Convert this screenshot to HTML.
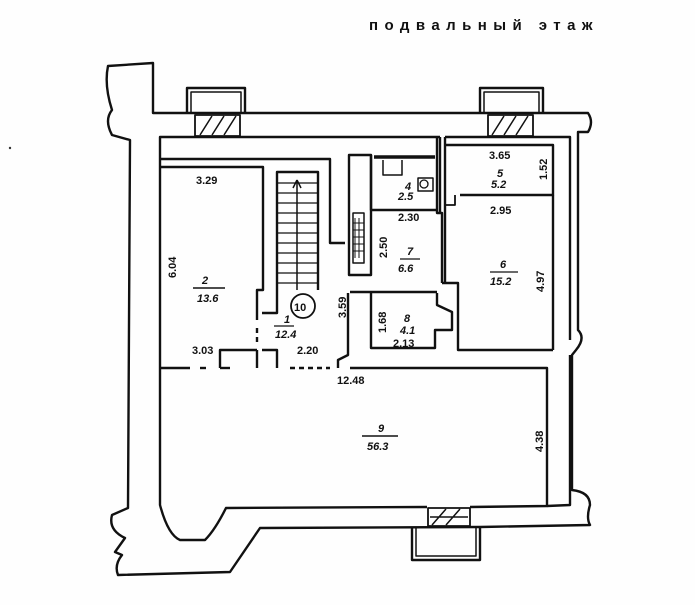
<!DOCTYPE html>
<html><head><meta charset="utf-8"><style>
html,body{margin:0;padding:0;background:#fff;}
svg{display:block}
text{font-family:"Liberation Sans",sans-serif;fill:#111;}
.l{font-size:11px;font-weight:bold}
.i{font-size:11px;font-style:italic;font-weight:bold}
</style></head><body>
<svg width="695" height="605" viewBox="0 0 695 605" xmlns="http://www.w3.org/2000/svg">
<rect width="695" height="605" fill="#fefefe"/>
<text x="369" y="30" style="font-size:15px;font-weight:bold;letter-spacing:2.5px" textLength="226">подвальный этаж</text>
<g fill="none" stroke="#111" stroke-width="2.4" stroke-linejoin="round">
<path d="M108,66 L153,63 L153,113 L588,113 Q594,122 588,132 L578,132 L578,330 Q586,338 576,350 L572,355 L572,490 Q590,492 590,505 Q586,518 590,525 L480,527 L260,528 L230,572 L118,575 Q114,565 122,555 L115,552 L125,538 Q108,530 112,515 L128,508 L130,140 L112,135 Q104,120 112,110 Q104,85 108,66 Z"/>
<path d="M160,368 L160,137 L440,137"/>
<path d="M445,137 L570,137 L570,340"/>
<path d="M570,355 L570,505 L547,506"/>
<path d="M160,368 L160,505 Q168,535 180,540 L205,540 Q215,530 226,508 L427,507"/>
<path d="M470,507 L547,506 L547,368 L350,368"/>
<path d="M190,368 L160,368"/>
<path d="M200,368 L206,368"/>
<path d="M220,368 L230,368"/>
<path d="M290,368 L330,368" stroke-dasharray="5 4"/>
<path d="M187,113 L187,88 L245,88 L245,113"/>
<path d="M191,113 L191,92 L241,92 L241,113" stroke-width="1.5"/>
<path d="M480,113 L480,88 L543,88 L543,113"/>
<path d="M484,113 L484,92 L539,92 L539,113" stroke-width="1.5"/>
<rect x="195" y="115" width="45" height="21" stroke-width="1.8"/>
<path d="M200,135 L212,116 M212,135 L224,116 M224,135 L236,116" stroke-width="1.5"/>
<rect x="488" y="115" width="45" height="21" stroke-width="1.8"/>
<path d="M492,135 L504,116 M504,135 L516,116 M516,135 L528,116" stroke-width="1.5"/>
<rect x="428" y="508" width="42" height="18" stroke-width="1.8"/>
<path d="M432,525 L446,509 M446,525 L460,509 M430,517 L468,517" stroke-width="1.5"/>
<path d="M412,527 L412,560 L480,560 L480,527"/>
<path d="M416,527 L416,556 L476,556 L476,527" stroke-width="1.5"/>
<path d="M160,159 L330,159 L330,243 L345,243"/>
<path d="M160,167 L263,167 L263,290 L257,290 L257,320"/>
<path d="M257,328 L257,345" stroke-dasharray="5 4"/>
<path d="M257,350 L257,368 M220,368 L220,350 L257,350"/>
<path d="M262,313 L277,313 L277,172 L318,172 L318,290"/>
<path d="M297,180 L297,290" stroke-width="1.5"/>
<path d="M297,180 L293,188 M297,180 L301,188" stroke-width="1.5"/>
<path d="M277,183 H318 M277,193 H318 M277,203 H318 M277,213 H318 M277,223 H318 M277,233 H318 M277,243 H318 M277,253 H318 M277,263 H318 M277,273 H318 M277,283 H318" stroke-width="1.3"/>
<path d="M277,368 L277,350 L262,350"/>
<rect x="349" y="155" width="22" height="120"/>
<rect x="353" y="213" width="11" height="50" stroke-width="1.5"/>
<path d="M355,218 V258 M359,218 V258 M353,223 H364 M353,230 H364 M353,237 H364 M353,244 H364 M353,251 H364" stroke-width="1"/>
<path d="M348,293 L348,355 L338,360 L338,368"/>
<path d="M371,155 L371,210 L437,210"/>
<path d="M437,137 L437,213 L442,213 L442,283"/>
<path d="M440,137 L440,213"/>
<path d="M374,157 L435,157" stroke-width="3.5"/>
<path d="M383,160 L383,175 L402,175 L402,160" stroke-width="1.5"/>
<rect x="418" y="178" width="15" height="13" stroke-width="1.5"/>
<circle cx="424" cy="184" r="4" stroke-width="1.3"/>
<path d="M350,292 L437,292"/>
<path d="M371,293 L371,348 L435,348 L435,330 L452,330 L452,312 L437,305 L437,293"/>
<path d="M442,283 L458,283 L458,350 L553,350"/>
<path d="M445,137 L445,283"/>
<path d="M445,145 L553,145 L553,195 L460,195"/>
<path d="M445,205 L455,205 L455,195" stroke-width="1.8"/>
<path d="M553,195 L553,350"/>
</g>
<text class="l" x="196" y="184">3.29</text>
<text class="l" transform="translate(176,278) rotate(-90)">6.04</text>
<text class="i" x="202" y="284">2</text>
<line x1="193" y1="288" x2="225" y2="288" stroke="#111" stroke-width="1.5"/>
<text class="i" x="197" y="302">13.6</text>
<text class="l" x="192" y="354">3.03</text>
<text class="i" x="284" y="323">1</text>
<line x1="274" y1="326" x2="294" y2="326" stroke="#111" stroke-width="1.3"/>
<text class="i" x="275" y="338">12.4</text>
<text class="l" x="297" y="354">2.20</text>
<text class="l" transform="translate(346,318) rotate(-90)">3.59</text>
<circle cx="303" cy="306" r="12" fill="none" stroke="#111" stroke-width="1.8"/>
<text class="l" x="294" y="311">10</text>
<text class="l" transform="translate(386,333) rotate(-90)">1.68</text>
<text class="i" x="404" y="322">8</text>
<text class="i" x="400" y="334">4.1</text>
<text class="l" x="393" y="347">2.13</text>
<text class="l" transform="translate(387,258) rotate(-90)">2.50</text>
<text class="i" x="407" y="255">7</text>
<line x1="400" y1="259" x2="420" y2="259" stroke="#111" stroke-width="1.3"/>
<text class="i" x="398" y="272">6.6</text>
<text class="l" x="398" y="221">2.30</text>
<text class="i" x="405" y="190">4</text>
<text class="i" x="398" y="200">2.5</text>
<text class="l" x="489" y="159">3.65</text>
<text class="i" x="497" y="177">5</text>
<text class="i" x="491" y="188">5.2</text>
<text class="l" transform="translate(547,180) rotate(-90)">1.52</text>
<text class="l" x="490" y="214">2.95</text>
<text class="i" x="500" y="268">6</text>
<line x1="490" y1="272" x2="518" y2="272" stroke="#111" stroke-width="1.3"/>
<text class="i" x="490" y="285">15.2</text>
<text class="l" transform="translate(544,292) rotate(-90)">4.97</text>
<text class="l" x="337" y="384">12.48</text>
<text class="i" x="378" y="432">9</text>
<line x1="362" y1="436" x2="398" y2="436" stroke="#111" stroke-width="1.5"/>
<text class="i" x="367" y="450">56.3</text>
<text class="l" transform="translate(543,452) rotate(-90)">4.38</text>
<circle cx="10" cy="148" r="1.2" fill="#333"/>
</svg>
</body></html>
